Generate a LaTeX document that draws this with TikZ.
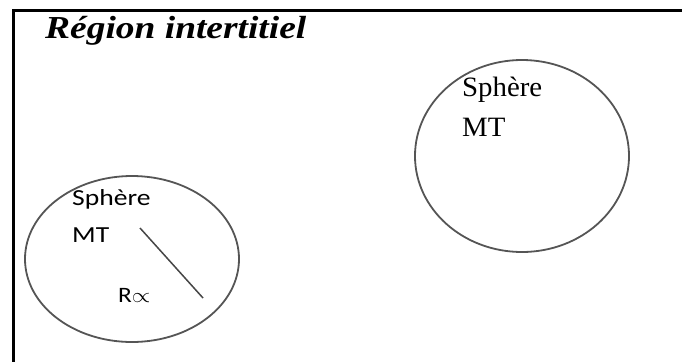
\documentclass[tikz,border=0pt]{standalone}
\usepackage{fontspec}
\newfontfamily\titlefont{Liberation Serif}
\newfontfamily\serifsph{Liberation Serif}
\newfontfamily\sanssph{Carlito}

\tikzset{
  sphere/.style={draw={rgb,255:red,85;green,85;blue,85}, line width=1.8pt},
  frameline/.style={line width=3pt},
  wide/.style={inner sep=0pt, xscale=#1, yscale=-1, transform shape},
}

\begin{document}
\begin{tikzpicture}[x=1pt,y=1pt,yscale=-1,xscale=1]
\useasboundingbox (0,0) rectangle (682,362);

%Frame (top and left edges only)
\draw [frameline] (682,10) -- (13,10) -- (13,362);

%Shape: Ellipse, left sphere
\draw [sphere] (132,259) ellipse [x radius=107, y radius=83];
%Shape: Ellipse, right sphere
\draw [sphere] (522,156) ellipse [x radius=107, y radius=96];

%Radius line
\coordinate (rA) at (140,228);
\coordinate (rB) at (203,298);
\draw [draw={rgb,255:red,70;green,70;blue,70}, line width=1.5pt] (rA) -- (rB);

% Text Node
\node (title) [anchor=base west, wide=1.17, font=\titlefont\fontsize{32}{38}\selectfont\bfseries\itshape] at (45,38)
  {Région intertitiel};
% Text Node
\node (sphR) [anchor=north west, wide=1.03, align=left, font=\serifsph\fontsize{28}{40}\selectfont] at (462,77)
  {Sphère\\MT};
% Text Node
\node (sphL) [anchor=north west, wide=1.2, align=left, font=\sanssph\fontsize{23}{37}\selectfont] at (72,189)
  {Sphère\\MT};
% Text Node
\node (rad) [anchor=base west, wide=1.15, font=\sanssph\fontsize{22}{26}\selectfont] at (118,302)
  {R$\propto$};

\end{tikzpicture}
\end{document}
